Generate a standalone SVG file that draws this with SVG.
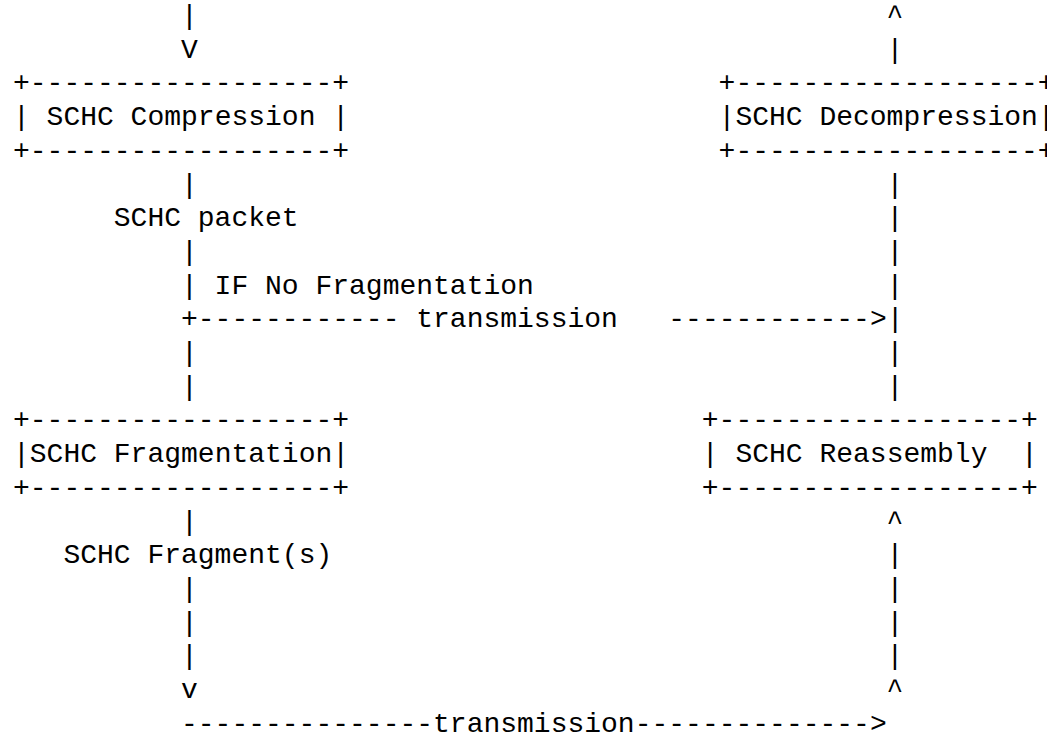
<svg xmlns="http://www.w3.org/2000/svg" width="1047" height="732" viewBox="0 0 1047 732" xml:space="preserve">
<style>
text { font-family: "Liberation Mono", "Courier New", monospace; font-size: 28px; fill: #000; white-space: pre; }
</style>
<rect width="1047" height="732" fill="#fff"/>
<g id="node-compression">
<text x="13" y="91.4">+------------------+</text>
<text x="13" y="125.1">| SCHC Compression |</text>
<text x="13" y="158.8">+------------------+</text>
</g>
<g id="node-decompression">
<text x="718.6" y="91.4">+------------------+</text>
<text x="718.6" y="125.1">|SCHC Decompression|</text>
<text x="718.6" y="158.8">+------------------+</text>
</g>
<g id="node-fragmentation">
<text x="13" y="428.4">+------------------+</text>
<text x="13" y="462.1">|SCHC Fragmentation|</text>
<text x="13" y="495.8">+------------------+</text>
</g>
<g id="node-reassembly">
<text x="701.8" y="428.4">+------------------+</text>
<text x="701.8" y="462.1">| SCHC Reassembly  |</text>
<text x="701.8" y="495.8">+------------------+</text>
</g>
<g id="connectors">
<text x="181" y="24">|</text>
<text x="181" y="57.7">V</text>
<text x="886.6" y="24">^</text>
<text x="886.6" y="57.7">|</text>
<text x="181" y="192.5">|</text>
<text x="113.8" y="226.2">SCHC packet</text>
<text x="181" y="259.9">|</text>
<text x="181" y="293.6">| IF No Fragmentation</text>
<text x="181" y="327.3">+------------ transmission   ------------&gt;|</text>
<text x="181" y="361">|</text>
<text x="181" y="394.7">|</text>
<text x="886.6" y="192.5">|</text>
<text x="886.6" y="226.2">|</text>
<text x="886.6" y="259.9">|</text>
<text x="886.6" y="293.6">|</text>
<text x="886.6" y="361">|</text>
<text x="886.6" y="394.7">|</text>
<text x="181" y="529.5">|</text>
<text x="63.4" y="563.2">SCHC Fragment(s)</text>
<text x="181" y="596.9">|</text>
<text x="181" y="630.6">|</text>
<text x="181" y="664.3">|</text>
<text x="181" y="698">v</text>
<text x="886.6" y="529.5">^</text>
<text x="886.6" y="563.2">|</text>
<text x="886.6" y="596.9">|</text>
<text x="886.6" y="630.6">|</text>
<text x="886.6" y="664.3">|</text>
<text x="886.6" y="698">^</text>
<text x="181" y="731.7">---------------transmission--------------&gt;</text>
</g>
</svg>
